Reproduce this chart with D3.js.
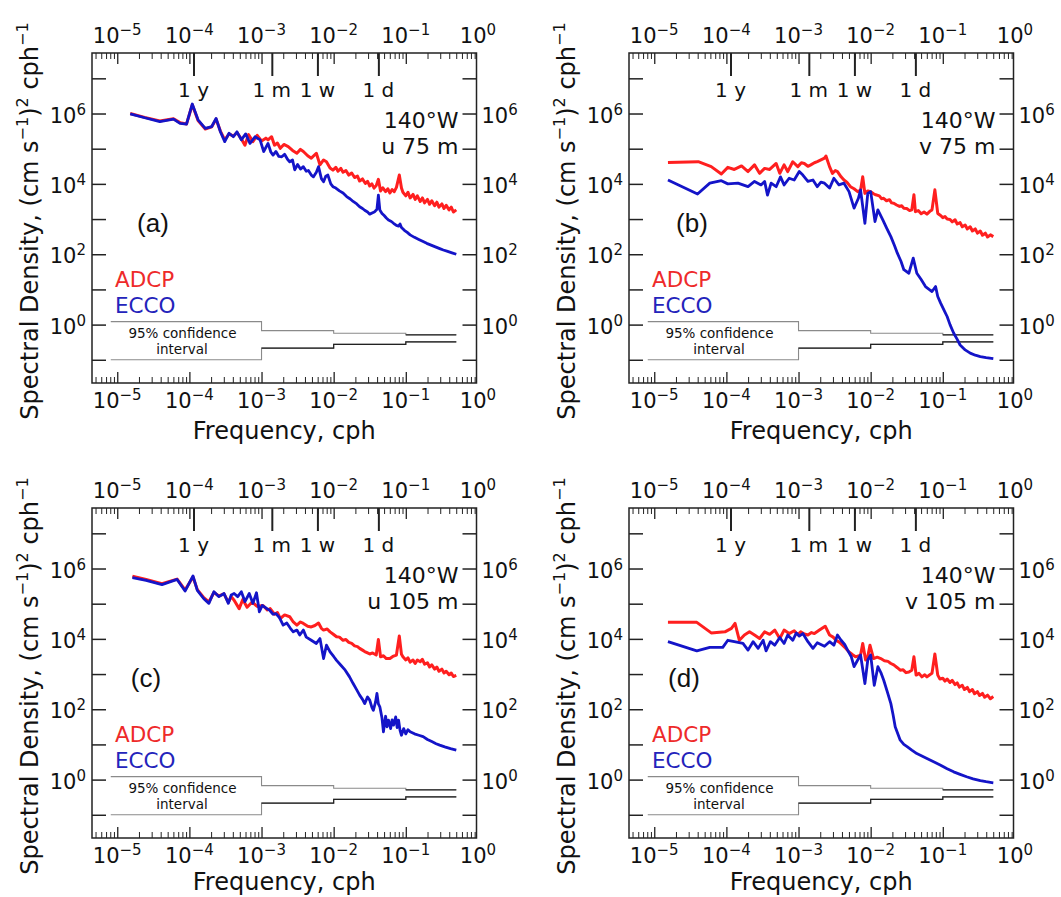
<!DOCTYPE html>
<html><head><meta charset="utf-8">
<script src="https://cdn.jsdelivr.net/npm/d3@7"></script>
<style>body{margin:0;background:#fff;} svg{display:block;} text{font-family:"DejaVu Sans",sans-serif;fill:#111;}</style>
</head><body><svg id="c" width="1061" height="897"></svg>
<script>
// Each point: [log10 frequency (cph), log10 spectral density ((cm/s)^2/cph)]
const adcpA = [[-4.82,6.00],[-4.62,5.89],[-4.41,5.79],[-4.22,5.85],[-4.13,5.74],[-4.04,5.70],[-3.96,6.25],[-3.88,5.80],[-3.78,5.56],[-3.69,5.62],[-3.63,5.84],[-3.57,5.50],[-3.51,5.25],[-3.45,5.42],[-3.39,5.36],[-3.34,5.46],[-3.28,5.28],[-3.23,5.10],[-3.18,5.40],[-3.12,5.20],[-3.06,5.38],[-3.00,5.22],[-2.94,5.30],[-2.91,5.25],[-2.86,5.34],[-2.82,5.10],[-2.78,5.16],[-2.74,5.01],[-2.69,5.12],[-2.63,5.06],[-2.57,4.95],[-2.51,4.87],[-2.46,4.98],[-2.42,4.92],[-2.36,4.80],[-2.31,4.73],[-2.24,4.87],[-2.19,4.54],[-2.14,4.68],[-2.10,4.63],[-2.05,4.45],[-2.01,4.39],[-1.97,4.47],[-1.94,4.36],[-1.90,4.44],[-1.87,4.33],[-1.83,4.38],[-1.79,4.25],[-1.75,4.31],[-1.71,4.18],[-1.67,4.22],[-1.64,4.08],[-1.60,4.14],[-1.56,4.01],[-1.53,4.07],[-1.50,3.94],[-1.47,4.00],[-1.44,3.88],[-1.41,3.95],[-1.38,4.13],[-1.35,3.80],[-1.32,3.89],[-1.28,3.78],[-1.25,3.86],[-1.22,3.74],[-1.19,3.84],[-1.16,3.78],[-1.13,3.90],[-1.09,4.25],[-1.06,3.88],[-1.04,3.76],[-1.00,3.66],[-0.97,3.76],[-0.94,3.60],[-0.90,3.70],[-0.87,3.56],[-0.84,3.66],[-0.80,3.50],[-0.77,3.60],[-0.74,3.46],[-0.70,3.56],[-0.67,3.42],[-0.64,3.52],[-0.60,3.38],[-0.57,3.48],[-0.54,3.34],[-0.50,3.43],[-0.47,3.30],[-0.44,3.39],[-0.40,3.26],[-0.37,3.34],[-0.34,3.20],[-0.30,3.26]];
const eccoA = [[-4.82,5.99],[-4.62,5.88],[-4.41,5.77],[-4.22,5.84],[-4.13,5.72],[-4.04,5.70],[-3.96,6.27],[-3.88,5.82],[-3.78,5.58],[-3.69,5.63],[-3.63,5.86],[-3.57,5.48],[-3.51,5.20],[-3.45,5.44],[-3.39,5.34],[-3.34,5.48],[-3.28,5.25],[-3.22,5.42],[-3.16,5.15],[-3.09,5.34],[-3.02,5.25],[-2.97,4.92],[-2.91,5.15],[-2.87,4.90],[-2.84,4.82],[-2.80,4.92],[-2.76,4.78],[-2.72,4.77],[-2.68,4.84],[-2.64,4.70],[-2.61,4.63],[-2.57,4.68],[-2.54,4.40],[-2.50,4.55],[-2.46,4.42],[-2.42,4.49],[-2.38,4.36],[-2.35,4.38],[-2.31,4.25],[-2.28,4.20],[-2.24,4.33],[-2.21,4.49],[-2.17,4.15],[-2.14,4.06],[-2.11,4.22],[-2.08,4.25],[-2.04,4.00],[-2.01,3.92],[-1.97,3.88],[-1.92,3.80],[-1.87,3.74],[-1.82,3.64],[-1.77,3.57],[-1.73,3.50],[-1.68,3.43],[-1.64,3.35],[-1.60,3.30],[-1.57,3.25],[-1.53,3.20],[-1.50,3.14],[-1.46,3.18],[-1.43,3.21],[-1.40,3.28],[-1.38,3.68],[-1.36,3.26],[-1.33,3.16],[-1.30,3.10],[-1.27,3.03],[-1.24,2.97],[-1.20,2.93],[-1.17,2.88],[-1.13,2.82],[-1.10,2.80],[-1.08,2.86],[-1.06,2.76],[-1.02,2.68],[-0.98,2.62],[-0.94,2.55],[-0.88,2.48],[-0.82,2.42],[-0.76,2.36],[-0.71,2.31],[-0.65,2.26],[-0.59,2.21],[-0.53,2.16],[-0.48,2.12],[-0.42,2.08],[-0.36,2.04],[-0.30,2.00]];
const adcpB = [[-4.81,4.61],[-4.39,4.63],[-4.21,4.49],[-4.07,4.28],[-3.98,4.47],[-3.89,4.41],[-3.79,4.51],[-3.70,4.35],[-3.61,4.54],[-3.54,4.30],[-3.47,4.44],[-3.40,4.41],[-3.31,4.58],[-3.26,4.30],[-3.20,4.54],[-3.15,4.35],[-3.08,4.63],[-3.01,4.49],[-2.96,4.60],[-2.92,4.58],[-2.87,4.50],[-2.83,4.54],[-2.78,4.60],[-2.74,4.63],[-2.69,4.68],[-2.64,4.73],[-2.62,4.79],[-2.57,4.49],[-2.53,4.30],[-2.49,4.38],[-2.46,4.35],[-2.41,4.20],[-2.37,4.11],[-2.33,4.05],[-2.28,3.92],[-2.23,3.86],[-2.18,3.78],[-2.14,3.82],[-2.11,4.20],[-2.08,3.73],[-2.04,3.80],[-2.00,3.78],[-1.96,3.72],[-1.93,3.69],[-1.88,3.66],[-1.85,3.58],[-1.82,3.59],[-1.78,3.52],[-1.74,3.55],[-1.71,3.46],[-1.68,3.45],[-1.64,3.40],[-1.60,3.36],[-1.57,3.38],[-1.54,3.31],[-1.50,3.30],[-1.46,3.24],[-1.43,3.26],[-1.40,3.69],[-1.38,3.21],[-1.34,3.24],[-1.30,3.15],[-1.26,3.20],[-1.22,3.14],[-1.18,3.22],[-1.15,3.26],[-1.11,3.83],[-1.07,3.16],[-1.03,3.10],[-1.00,3.04],[-0.97,3.07],[-0.94,3.00],[-0.90,2.99],[-0.87,2.92],[-0.83,2.98],[-0.80,2.86],[-0.76,2.90],[-0.73,2.78],[-0.69,2.83],[-0.66,2.72],[-0.62,2.78],[-0.59,2.66],[-0.55,2.72],[-0.52,2.60],[-0.48,2.66],[-0.45,2.54],[-0.41,2.60],[-0.38,2.49],[-0.34,2.55],[-0.30,2.50]];
const eccoB = [[-4.81,4.11],[-4.40,3.71],[-4.23,4.02],[-4.07,4.09],[-3.98,4.00],[-3.84,4.02],[-3.70,3.92],[-3.61,4.07],[-3.52,3.97],[-3.47,4.07],[-3.43,3.68],[-3.38,4.02],[-3.31,3.92],[-3.25,4.20],[-3.20,3.97],[-3.13,4.16],[-3.06,4.11],[-2.99,4.35],[-2.94,4.25],[-2.87,4.07],[-2.80,4.11],[-2.74,3.92],[-2.69,4.05],[-2.64,4.02],[-2.57,3.88],[-2.51,4.16],[-2.44,3.97],[-2.37,4.02],[-2.30,3.78],[-2.23,3.31],[-2.17,3.59],[-2.14,3.83],[-2.08,2.88],[-2.04,3.73],[-2.00,3.78],[-1.94,2.93],[-1.90,3.26],[-1.83,2.97],[-1.78,2.75],[-1.72,2.50],[-1.67,2.25],[-1.63,2.03],[-1.58,1.80],[-1.54,1.56],[-1.47,1.46],[-1.41,1.89],[-1.36,1.46],[-1.30,1.28],[-1.24,1.08],[-1.19,1.00],[-1.15,0.94],[-1.10,1.08],[-1.07,0.80],[-1.03,0.61],[-0.98,0.40],[-0.94,0.23],[-0.90,0.00],[-0.85,-0.24],[-0.80,-0.42],[-0.76,-0.58],[-0.69,-0.72],[-0.62,-0.81],[-0.55,-0.87],[-0.48,-0.91],[-0.40,-0.94],[-0.30,-0.97]];
const adcpC = [[-4.79,5.78],[-4.60,5.69],[-4.38,5.57],[-4.17,5.70],[-4.06,5.39],[-3.95,5.76],[-3.89,5.40],[-3.80,5.17],[-3.73,5.05],[-3.66,5.32],[-3.59,5.22],[-3.52,5.28],[-3.46,5.04],[-3.42,5.20],[-3.38,5.10],[-3.31,4.86],[-3.26,5.12],[-3.20,4.90],[-3.13,5.05],[-3.06,4.92],[-2.98,4.95],[-2.92,4.82],[-2.88,4.86],[-2.82,4.70],[-2.78,4.75],[-2.74,4.58],[-2.68,4.68],[-2.61,4.63],[-2.56,4.48],[-2.51,4.39],[-2.46,4.48],[-2.42,4.44],[-2.36,4.36],[-2.31,4.34],[-2.26,4.38],[-2.21,4.45],[-2.17,4.30],[-2.14,4.25],[-2.09,4.28],[-2.05,4.20],[-2.01,4.14],[-1.96,4.06],[-1.92,4.05],[-1.87,3.96],[-1.83,3.98],[-1.79,3.90],[-1.75,3.87],[-1.71,3.80],[-1.67,3.78],[-1.64,3.73],[-1.60,3.68],[-1.57,3.64],[-1.53,3.60],[-1.50,3.57],[-1.46,3.60],[-1.41,3.54],[-1.38,3.98],[-1.35,3.49],[-1.31,3.52],[-1.27,3.44],[-1.22,3.44],[-1.18,3.50],[-1.13,3.54],[-1.09,4.08],[-1.06,3.56],[-1.04,3.49],[-1.00,3.40],[-0.97,3.46],[-0.94,3.34],[-0.90,3.40],[-0.87,3.30],[-0.84,3.40],[-0.80,3.35],[-0.77,3.42],[-0.74,3.28],[-0.70,3.32],[-0.67,3.20],[-0.64,3.26],[-0.60,3.14],[-0.57,3.20],[-0.54,3.08],[-0.50,3.14],[-0.47,3.03],[-0.44,3.08],[-0.40,2.98],[-0.37,3.03],[-0.34,2.93],[-0.30,2.96]];
const eccoC = [[-4.79,5.74],[-4.60,5.66],[-4.38,5.54],[-4.17,5.69],[-4.06,5.36],[-3.95,5.79],[-3.89,5.38],[-3.80,5.14],[-3.73,5.01],[-3.66,5.34],[-3.59,5.20],[-3.52,5.29],[-3.46,5.01],[-3.42,5.25],[-3.38,5.29],[-3.33,5.20],[-3.28,5.34],[-3.23,5.06],[-3.17,5.29],[-3.12,5.01],[-3.07,5.31],[-3.03,4.77],[-2.99,4.95],[-2.96,4.91],[-2.92,4.85],[-2.89,4.82],[-2.84,4.70],[-2.80,4.72],[-2.75,4.60],[-2.70,4.39],[-2.65,4.45],[-2.60,4.30],[-2.56,4.20],[-2.51,4.25],[-2.47,4.11],[-2.42,4.25],[-2.38,4.05],[-2.31,3.96],[-2.24,3.87],[-2.19,4.01],[-2.14,3.44],[-2.10,3.82],[-2.05,3.63],[-2.00,3.50],[-1.96,3.39],[-1.90,3.25],[-1.84,3.11],[-1.78,2.92],[-1.73,2.73],[-1.68,2.55],[-1.64,2.40],[-1.60,2.28],[-1.57,2.16],[-1.53,2.35],[-1.50,2.26],[-1.47,2.05],[-1.45,1.97],[-1.42,2.20],[-1.40,2.45],[-1.38,2.15],[-1.36,2.07],[-1.33,1.75],[-1.31,1.36],[-1.28,1.80],[-1.26,1.50],[-1.24,1.69],[-1.21,1.45],[-1.19,1.70],[-1.17,1.55],[-1.14,1.78],[-1.12,1.48],[-1.10,1.69],[-1.08,1.40],[-1.06,1.26],[-1.03,1.45],[-1.00,1.30],[-0.97,1.42],[-0.94,1.36],[-0.88,1.30],[-0.82,1.26],[-0.76,1.22],[-0.70,1.14],[-0.64,1.08],[-0.58,1.02],[-0.53,0.98],[-0.46,0.93],[-0.38,0.88],[-0.30,0.84]];
const adcpD = [[-4.81,4.47],[-4.41,4.47],[-4.21,4.17],[-4.02,4.20],[-3.93,4.30],[-3.88,4.44],[-3.82,3.96],[-3.75,4.11],[-3.68,4.20],[-3.61,4.11],[-3.54,4.01],[-3.47,4.20],[-3.40,4.13],[-3.33,4.25],[-3.26,4.01],[-3.20,4.25],[-3.13,4.15],[-3.06,4.23],[-3.01,4.12],[-2.97,4.20],[-2.92,4.14],[-2.87,4.11],[-2.82,4.18],[-2.78,4.15],[-2.71,4.25],[-2.63,4.36],[-2.57,4.11],[-2.52,4.05],[-2.48,3.96],[-2.43,3.90],[-2.39,3.82],[-2.34,3.72],[-2.30,3.63],[-2.25,3.55],[-2.21,3.49],[-2.14,3.54],[-2.11,3.87],[-2.07,3.40],[-2.04,3.50],[-2.01,3.82],[-1.96,3.44],[-1.91,3.48],[-1.86,3.44],[-1.81,3.38],[-1.76,3.36],[-1.72,3.30],[-1.68,3.26],[-1.63,3.18],[-1.59,3.11],[-1.55,3.12],[-1.51,3.04],[-1.47,3.06],[-1.43,3.11],[-1.40,3.49],[-1.37,2.97],[-1.33,3.02],[-1.29,2.92],[-1.25,2.98],[-1.22,2.92],[-1.18,2.98],[-1.15,3.02],[-1.11,3.57],[-1.07,2.97],[-1.04,2.86],[-1.00,2.88],[-0.97,2.80],[-0.94,2.86],[-0.90,2.76],[-0.87,2.82],[-0.83,2.70],[-0.80,2.75],[-0.77,2.63],[-0.73,2.68],[-0.70,2.56],[-0.66,2.62],[-0.63,2.50],[-0.59,2.56],[-0.56,2.44],[-0.52,2.50],[-0.49,2.39],[-0.45,2.45],[-0.42,2.34],[-0.38,2.40],[-0.34,2.30],[-0.30,2.36]];
const eccoD = [[-4.81,3.92],[-4.41,3.66],[-4.23,3.76],[-4.05,3.76],[-3.98,3.96],[-3.89,3.92],[-3.77,3.87],[-3.70,3.68],[-3.63,3.92],[-3.56,3.73],[-3.49,3.96],[-3.45,3.66],[-3.39,3.92],[-3.33,3.82],[-3.26,4.04],[-3.20,3.87],[-3.15,4.11],[-3.08,3.96],[-3.03,4.17],[-2.99,4.08],[-2.94,4.15],[-2.87,3.92],[-2.80,3.73],[-2.74,3.89],[-2.64,3.79],[-2.57,3.92],[-2.51,3.82],[-2.46,4.11],[-2.41,3.96],[-2.36,3.84],[-2.32,3.68],[-2.27,3.50],[-2.23,3.21],[-2.18,3.40],[-2.14,3.54],[-2.08,2.73],[-2.04,3.40],[-2.00,3.54],[-1.95,2.68],[-1.90,3.21],[-1.86,3.05],[-1.82,2.83],[-1.77,2.50],[-1.72,2.16],[-1.69,1.85],[-1.66,1.50],[-1.62,1.28],[-1.59,1.12],[-1.54,1.00],[-1.49,0.93],[-1.43,0.84],[-1.36,0.74],[-1.29,0.67],[-1.22,0.60],[-1.12,0.50],[-1.03,0.41],[-0.94,0.31],[-0.85,0.22],[-0.76,0.15],[-0.67,0.08],[-0.58,0.02],[-0.48,-0.03],[-0.40,-0.06],[-0.30,-0.09]];

// 95% confidence interval steps (log10 frequency edges, log10 upper/lower levels)
const ciEdges = [-5.09, -3, -2, -1, -0.30];
const ciUpper = [0.085, -0.17, -0.245, -0.29];
const ciLower = [-1.0, -0.67, -0.56, -0.49];

const xTickExps = [-5, -4, -3, -2, -1, 0];
const yTickExps = [0, 2, 4, 6];
const yTickDecades = [-1, 0, 1, 2, 3, 4, 5, 6, 7];
const periodLabels = ["1 y", "1 m", "1 w", "1 d"];
const periodHours = [8766, 720, 168, 24];
const panelLetters = ["(a)", "(b)", "(c)", "(d)"];
const panelComps = ["u 75 m", "v 75 m", "u 105 m", "v 105 m"];
const panelSite = "140°W";
const seriesNames = ["ADCP", "ECCO"];

const panels = [
  {letter: panelLetters[0], comp: panelComps[0], adcp: adcpA, ecco: eccoA, dx: 0,   dy: 0,   lx: 153, ty: 439},
  {letter: panelLetters[1], comp: panelComps[1], adcp: adcpB, ecco: eccoB, dx: 537, dy: 0,   lx: 155, ty: 439},
  {letter: panelLetters[2], comp: panelComps[2], adcp: adcpC, ecco: eccoC, dx: 0,   dy: 455, lx: 146, ty: 435},
  {letter: panelLetters[3], comp: panelComps[3], adcp: adcpD, ecco: eccoD, dx: 537, dy: 455, lx: 147, ty: 435}
];

const svg = d3.select("#c");
const X0 = 92, X1 = 476.5, Y0 = 53, Y1 = 383;
const xDom = [Math.pow(10, -5.35), Math.pow(10, -0.02)];
const yDom = [Math.pow(10, -1.66), Math.pow(10, 7.72)];
const RED = "#ff1f1f", BLUE = "#1414c8";

function sup(e) {
  return e < 0 ? "\u2212" + (-e) : String(e);
}

panels.forEach(p => {
  const g = svg.append("g").attr("transform", `translate(${p.dx},${p.dy})`);
  const x = d3.scaleLog().domain(xDom).range([X0, X1]);
  const y = d3.scaleLog().domain(yDom).range([Y1, Y0]);

  const minor = [];
  for (let e = -6; e <= -1; e++) for (let k = 2; k <= 9; k++) {
    const v = k * Math.pow(10, e);
    if (v >= xDom[0] && v <= xDom[1]) minor.push(v);
  }
  const major = xTickExps.map(e => Math.pow(10, e)).filter(v => v <= xDom[1]);
  const yMajor = yTickDecades.map(e => Math.pow(10, e));

  const clean = a => { a.select(".domain").remove(); a.selectAll("line").attr("stroke", "#222"); };
  g.append("g").attr("transform", `translate(0,${Y1})`)
    .call(d3.axisBottom(x).tickValues(minor).tickSize(-6).tickSizeOuter(0).tickFormat("")).call(clean);
  g.append("g").attr("transform", `translate(0,${Y1})`)
    .call(d3.axisBottom(x).tickValues(major).tickSize(-11).tickSizeOuter(0).tickFormat("")).call(clean)
    .selectAll("line").attr("stroke-width", 1.3);
  g.append("g").attr("transform", `translate(0,${Y0})`)
    .call(d3.axisTop(x).tickValues(minor).tickSize(-6).tickSizeOuter(0).tickFormat("")).call(clean);
  g.append("g").attr("transform", `translate(0,${Y0})`)
    .call(d3.axisTop(x).tickValues(major).tickSize(-11).tickSizeOuter(0).tickFormat("")).call(clean)
    .selectAll("line").attr("stroke-width", 1.3);
  g.append("g").attr("transform", `translate(0,${Y0})`)
    .call(d3.axisTop(x).tickValues(periodHours.map(h => 1 / h)).tickSize(-23).tickSizeOuter(0).tickFormat("")).call(clean)
    .selectAll("line").attr("stroke-width", 2);
  g.append("g").attr("transform", `translate(${X0},0)`)
    .call(d3.axisLeft(y).tickValues(yMajor).tickSize(-14).tickSizeOuter(0).tickFormat("")).call(clean)
    .selectAll("line").attr("stroke-width", 1.5);
  g.append("g").attr("transform", `translate(${X1},0)`)
    .call(d3.axisRight(y).tickValues(yMajor).tickSize(-14).tickSizeOuter(0).tickFormat("")).call(clean)
    .selectAll("line").attr("stroke-width", 1.5);

  g.append("rect").attr("x", X0).attr("y", Y0).attr("width", X1 - X0).attr("height", Y1 - Y0)
    .attr("fill", "none").attr("stroke", "#222").attr("stroke-width", 1.5);

  // x tick labels top & bottom
  [Y0 - 10, Y1 + 25].forEach(by => {
    xTickExps.forEach(e => {
      const t = g.append("text").attr("x", x(Math.pow(10, e))).attr("y", by)
        .attr("text-anchor", "middle").attr("font-size", 21);
      t.append("tspan").text("10");
      t.append("tspan").attr("dy", -8).attr("font-size", 15).text(sup(e));
    });
  });
  // y tick labels left & right
  yTickExps.forEach(e => {
    const yy = y(Math.pow(10, e)) + 9;
    const tl = g.append("text").attr("x", X0 - 6).attr("y", yy).attr("text-anchor", "end").attr("font-size", 21);
    tl.append("tspan").text("10");
    tl.append("tspan").attr("dy", -8).attr("font-size", 15).text(sup(e));
    const tr = g.append("text").attr("x", X1 + 5).attr("y", yy).attr("text-anchor", "start").attr("font-size", 21);
    tr.append("tspan").text("10");
    tr.append("tspan").attr("dy", -8).attr("font-size", 15).text(sup(e));
  });

  // period labels
  periodHours.forEach((h, i) => {
    g.append("text").attr("x", x(1 / h)).attr("y", 96.5).attr("text-anchor", "middle")
      .attr("font-size", 20).text(periodLabels[i]);
  });

  // axis titles
  const yt = g.append("text").attr("transform", `translate(38,221) rotate(-90)`)
    .attr("text-anchor", "middle").attr("font-size", 24);
  yt.append("tspan").text("Spectral Density, (cm s");
  yt.append("tspan").attr("dy", -10).attr("font-size", 16).text("\u22121");
  yt.append("tspan").attr("dy", 10).text(")");
  yt.append("tspan").attr("dy", -10).attr("font-size", 16).text("2");
  yt.append("tspan").attr("dy", 10).text(" cph");
  yt.append("tspan").attr("dy", -10).attr("font-size", 16).text("\u22121");
  g.append("text").attr("x", (X0 + X1) / 2).attr("y", p.ty).attr("text-anchor", "middle")
    .attr("font-size", 24).text("Frequency, cph");

  // confidence interval
  const ciLine = d3.line().x(d => x(Math.pow(10, d[0]))).y(d => y(Math.pow(10, d[1]))).curve(d3.curveStepAfter);
  const up = ciEdges.map((e, i) => [e, ciUpper[Math.min(i, ciUpper.length - 1)]]);
  const lo = ciEdges.map((e, i) => [e, ciLower[Math.min(i, ciLower.length - 1)]]);
  g.append("path").attr("d", ciLine(up)).attr("fill", "none").attr("stroke", "#8a8a8a").attr("stroke-width", 1.1);
  g.append("path").attr("d", ciLine(lo)).attr("fill", "none").attr("stroke", "#8a8a8a").attr("stroke-width", 1.1);
  g.append("path").attr("d", ciLine(up.slice(3))).attr("fill", "none").attr("stroke", "#222").attr("stroke-width", 1.2);
  g.append("path").attr("d", ciLine(lo.slice(1))).attr("fill", "none").attr("stroke", "#222").attr("stroke-width", 1.2);
  g.append("text").attr("x", 182.5).attr("y", 337.5).attr("text-anchor", "middle").attr("font-size", 13.5)
    .attr("fill", "#333").text("95% confidence");
  g.append("text").attr("x", 182).attr("y", 354).attr("text-anchor", "middle").attr("font-size", 13.5)
    .attr("fill", "#333").text("interval");

  // spectra
  const line = d3.line().x(d => x(Math.pow(10, d[0]))).y(d => y(Math.pow(10, d[1])));
  g.append("path").attr("d", line(p.adcp)).attr("fill", "none").attr("stroke", RED)
    .attr("stroke-width", 3).attr("stroke-linejoin", "round");
  g.append("path").attr("d", line(p.ecco)).attr("fill", "none").attr("stroke", BLUE)
    .attr("stroke-width", 2.8).attr("stroke-linejoin", "round");

  // annotations
  g.append("text").attr("x", 458.5).attr("y", 127.5).attr("text-anchor", "end").attr("font-size", 22).text(panelSite);
  g.append("text").attr("x", 458.5).attr("y", 153.5).attr("text-anchor", "end").attr("font-size", 22).text(p.comp);
  g.append("text").attr("x", p.lx).attr("y", 232).attr("text-anchor", "middle")
    .style("font-family", "'Liberation Sans', Arial, sans-serif").attr("font-size", 26).text(p.letter);
  g.append("text").attr("x", 115).attr("y", 287).attr("font-size", 21.5).style("fill", "#ee2a2a").text(seriesNames[0]);
  g.append("text").attr("x", 115).attr("y", 313).attr("font-size", 21.5).style("fill", "#2424bb").text(seriesNames[1]);
});
</script>
</body></html>
